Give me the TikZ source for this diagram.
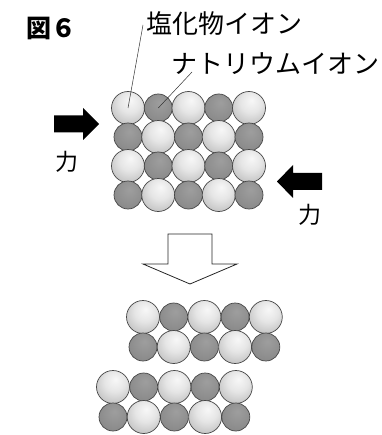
\documentclass[tikz,border=0pt]{standalone}
\usepackage{fontspec}
\newfontfamily\jpfont{Noto Sans CJK JP}
\usepackage{tikz}
\usetikzlibrary{positioning}

% ion shadings: light highlight a bit above centre
\pgfdeclareradialshading{bigball}{\pgfpoint{4bp}{12bp}}{color(0bp)=(black!3); color(16bp)=(black!10); color(42bp)=(black!32); color(62bp)=(black!46)}
\pgfdeclareradialshading{smallball}{\pgfpoint{3bp}{10bp}}{color(0bp)=(black!38); color(30bp)=(black!46); color(62bp)=(black!58)}

\begin{document}
\begin{tikzpicture}[x=1pt, y=-1pt,
				bigion/.style={circle, draw=black!72, line width=0.7pt, inner sep=0pt, minimum size=33pt, shading=bigball},
				smallion/.style={circle, draw=black!72, line width=0.7pt, inner sep=0pt, minimum size=28pt, shading=smallball},
				label/.style={inner sep=0pt, font=\jpfont\fontsize{26}{30}\selectfont},
				force/.style={inner sep=0pt, font=\jpfont\fontsize{23}{26}\selectfont}]
				\useasboundingbox (0,0) rectangle (381,435);
				% title and ion names
				\node at (26,28) (title) [inner sep=0pt, anchor=west, font=\jpfont\bfseries\fontsize{25}{29}\selectfont] {図６};
				\node at (146,24) (chloride) [label, anchor=west] {塩化物イオン};
				\node at (171,64) (sodium) [label, anchor=west] {ナトリウムイオン};
				% crystal before the push
				\foreach \r in {0,...,3}
				\foreach \c in {0,...,4} {
					\ifodd\numexpr\r+\c\relax \def\ion{smallion}\else \def\ion{bigion}\fi
					\node at (128+30.25*\c,108+29*\r) (t\r\c) [\ion] {};
				}
				\coordinate (cllead) at (143,25);
				\coordinate (nalead) at (192,72);
				\draw[black!80, line width=0.5pt] (cllead) -- (t00.center);
				\draw[black!80, line width=0.5pt] (nalead) -- (t01.center);
				% forces
				\fill[black] (54,115.5) -- (83,115.5) -- (83,108) -- (99,124) -- (83,140) -- (83,132.5) -- (54,132.5) -- cycle;
				\node at (67,162) (fleft) [force] {力};
				\fill[black] (322,173) -- (293,173) -- (293,165) -- (277,181.5) -- (293,198) -- (293,190) -- (322,190) -- cycle;
				\node at (310,215) (fright) [force] {力};
				% open arrow
				\draw[black!85, line width=0.8pt, line join=miter] (168,234) -- (212,234) -- (212,264) -- (237,264) -- (190,284) -- (143,264) -- (168,264) -- cycle;
				% crystal after the slip
				\foreach \r in {0,1}
				\foreach \c in {0,...,4} {
					\ifodd\numexpr\r+\c\relax \def\ion{smallion}\else \def\ion{bigion}\fi
					\node at (143+30.7*\c,317+30*\r) (u\r\c) [\ion] {};
				}
				\foreach \r in {0,1}
				\foreach \c in {0,...,4} {
					\ifodd\numexpr\r+\c\relax \def\ion{smallion}\else \def\ion{bigion}\fi
					\node at (113+30.7*\c,387+30*\r) (l\r\c) [\ion] {};
				}
			\end{tikzpicture}
\end{document}
